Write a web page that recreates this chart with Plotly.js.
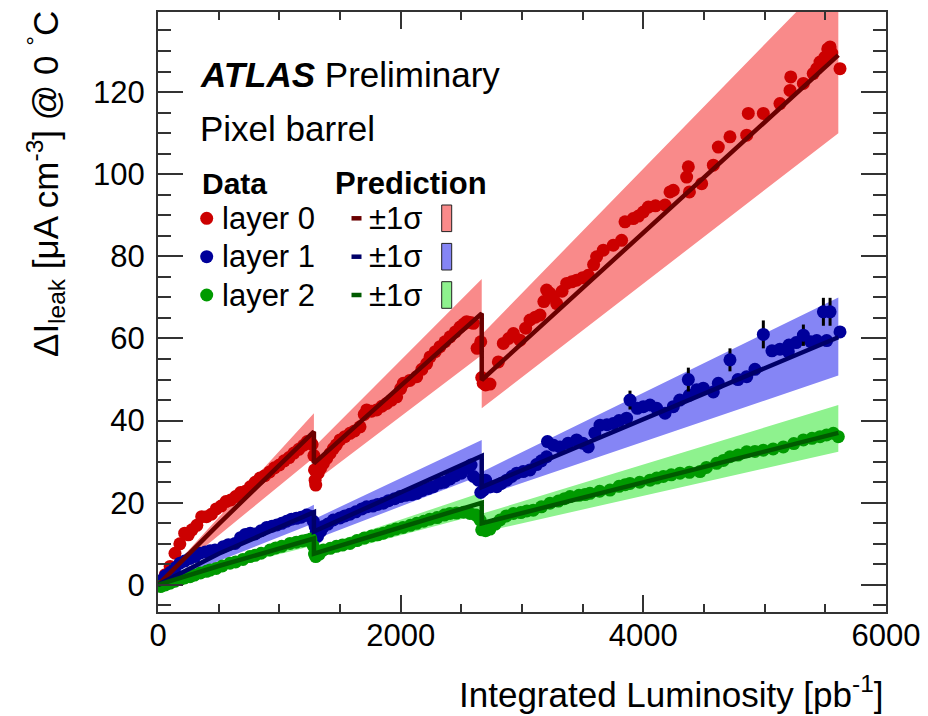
<!DOCTYPE html>
<html>
<head>
<meta charset="utf-8">
<script src="https://cdn.plot.ly/plotly-3.0.1.min.js"></script>
<style>html,body{margin:0;padding:0;background:#fff;}#chart{width:928px;height:716px;}</style>
</head>
<body>
<div id="chart"></div>
<script>
// ---------------- data ----------------
// Layer 0 measurements
const l0X = [20,60,100,140,180,220,250,280,320,360,400,440,480,520,560,600,640,680,720,760,800,840,880,920,960,1000,1040,1080,1120,1160,1200,1230,1260,1270,1285,1290,1295,1300,
  1320,1340,1363,1390,1418,1445,1470,1500,1540,1582,1620,1665,1700,1720,1760,1802,1845,1885,1925,1967,2000,2022,2075,2132,2175,2214,2242,2285,2324,2365,2407,2450,2489,2520,2544,2575,2599,2630,2660,2668,2680,2700,2736,
  2805,2846,2890,2929,2984,3030,3066,3110,3148,3180,3203,3230,3258,3286,3330,3368,3410,3450,3500,3546,3590,3615,3670,3752,3821,3849,3917,3960,4000,4041,4100,4179,4220,4247,4357,4371,4380,4481,4577,4618,4714,4852,4865,4989,5126,5209,5215,5319,5400,5429,5456,5497,5520,5539,5553,5621];
const l0Y = [0.8,2.5,4.5,7.7,10.0,12.6,12.2,13.4,14.5,16.6,16.6,17.2,18.5,19.2,20.3,20.7,21.5,22.5,22.8,23.9,25.0,26.0,26.6,27.5,28.5,29.2,30.2,31.0,32.1,33.0,34.0,34.9,34.5,34.2,31.5,28.0,25.5,24.3,
  27.2,28.4,29.6,30.8,32.0,33.2,34.1,35.3,36.1,36.9,37.5,38.5,41.5,42.6,42.3,42.6,43.5,44.2,45.0,45.8,47.8,49.1,49.8,50.7,52.5,53.9,55.5,56.8,58.0,59.2,60.4,61.6,62.8,63.5,64.1,63.9,63.7,57.6,59.2,50.5,49.1,48.7,48.9,
  54.3,58.8,60.0,61.2,59.6,62.5,64.5,65.2,65.7,69.0,71.8,71.0,70.1,68.5,71.5,73.4,73.8,74.2,74.8,75.4,78.0,79.9,81.5,82.7,83.9,88.4,89.2,89.8,90.8,92.0,92.3,92.5,95.7,96.1,99.3,101.8,95.7,97.7,102.2,106.6,109.1,109.5,114.8,114.8,117.2,120.4,123.7,122.1,124.5,125.7,127.3,128.5,130.5,131.0,129.5,125.7];

// Layer 1 measurements
const l1X = [20,60,100,140,181,220,260,305,346,390,430,470,538,580,635,680,720,760,800,850,896,940,980,1020,1060,1100,1140,1180,1225,1250,1280,1295,1305,1315,
  1340,1363,1400,1445,1500,1540,1582,1630,1680,1720,1770,1810,1857,1900,1950,1995,2040,2090,2132,2180,2230,2269,2320,2360,2407,2450,2500,2544,2580,2600,2640,2660,
  2682,2700,2740,2792,2830,2874,2915,2956,3010,3066,3120,3160,3203,3210,3260,3313,3380,3450,3500,3546,3600,3643,3700,3752,3800,3862,3950,4000,4055,4110,4179,4247,4300,4380,4440,4494,4577,4618,4780,4852,4920,5060,5126,5195,5200,5260,5380,5429,5511,5621];
const l1Y = [1.0,2.2,3.0,4.1,5.3,5.8,6.4,6.9,7.7,8.0,8.3,8.5,9.3,9.8,10.1,11.5,12.3,12.6,12.4,13.2,14.0,14.3,14.6,15.0,15.5,16.0,16.2,16.5,17.0,16.8,15.5,14.2,13.0,11.8,
  13.0,14.2,14.8,15.8,16.3,16.8,17.2,17.8,18.5,19.0,19.2,19.6,19.9,20.5,21.0,21.5,21.8,22.0,22.3,23.0,23.5,23.9,24.8,25.0,25.8,26.6,27.2,28.4,29.2,26.4,25.5,22.5,
  23.1,25.5,23.9,23.9,24.7,25.5,26.4,27.2,27.6,28.0,29.3,30.2,31.2,34.9,34.0,33.6,34.5,35.3,34.5,33.6,37.0,38.9,39.0,39.3,40.0,40.6,43.0,43.4,43.8,43.0,41.8,43.4,45.0,46.2,47.5,47.9,47.0,49.1,50.0,50.7,52.5,57.0,57.4,56.8,58.4,59.0,59.2,59.5,59.5,61.6];
// Layer 1 measurements drawn with visible error bars
const l1ErrX = [3890,4371,4714,4989,5319,5484,5539];
const l1ErrY = [45.0,50.0,54.8,61.0,60.8,66.5,66.5];
const l1ErrV = [2.3,2.9,2.8,3.4,2.6,3.4,3.4];

// Layer 2 measurements
const l2X = [20,60,99,140,180,220,264,300,350,400,429,480,530,593,640,700,758,800,850,923,970,1020,1088,1140,1190,1225,1260,1280,1290,1300,
  1330,1363,1420,1470,1520,1582,1640,1700,1760,1810,1857,1910,1960,2020,2080,2132,2190,2240,2300,2360,2407,2460,2520,2571,2620,2654,
  2668,2700,2736,2780,2819,2870,2929,2990,3040,3093,3160,3231,3300,3350,3396,3470,3520,3560,3640,3725,3800,3850,3890,3970,4055,4110,4165,4230,4302,4380,4467,4520,4604,4660,4714,4780,4852,4920,4989,5070,5154,5240,5319,5390,5456,5510,5566,5607];
const l2Y = [-0.4,0.0,0.4,0.9,1.3,1.7,2.0,2.4,2.9,3.3,3.6,4.0,4.6,5.3,5.6,6.2,6.9,7.2,7.7,8.5,9.0,9.4,10.1,10.4,10.7,10.9,11.2,9.5,7.5,6.9,
  7.5,8.5,8.9,9.4,9.7,10.1,10.8,11.4,11.9,12.2,12.6,13.1,13.6,14.0,14.5,15.0,15.5,16.0,16.4,17.0,17.4,17.5,17.7,17.4,17.0,15.8,
  13.4,13.2,13.6,14.8,15.8,16.8,17.4,17.6,18.0,18.2,19.0,19.9,20.4,21.0,21.5,21.8,22.0,22.3,22.8,23.1,24.0,24.4,24.7,25.0,25.5,26.0,26.4,26.8,27.2,27.4,27.6,28.6,29.6,30.3,31.2,31.6,32.4,32.5,32.8,33.1,33.6,34.4,35.3,35.7,36.1,36.5,36.9,36.1];

// Predictions (sawtooth: drops at the annealing periods)
const predX  = [0, 500, 1285, 1285, 2668, 2668, 5607];
const l0Pred = [0, 14.8, 37.3, 29.6, 66.1, 49.9, 129.0];
const l1Pred = [0, 7.6, 17.7, 13.0, 31.4, 23.8, 60.3];
const l2Pred = [0, 4.6, 11.3, 7.6, 20.0, 15.0, 37.0];

// +-1 sigma bands: (start, end) pairs for each period
const bandX  = [0, 1285, 1285, 2668, 2668, 5607];
const l0Lo = [0, 31.0, 25.0, 56.0, 43.0, 110.0];
const l0Hi = [0.3, 41.8, 33.5, 74.5, 61.0, 150.0];
const l1Lo = [0, 15.0, 11.0, 26.7, 21.5, 51.0];
const l1Hi = [0.3, 19.5, 16.0, 35.3, 27.5, 70.0];
const l2Lo = [0, 9.6, 6.5, 17.3, 12.8, 32.4];
const l2Hi = [0.3, 12.8, 8.8, 22.5, 17.3, 43.8];

const layerNames = ['layer 0', 'layer 1', 'layer 2'];
const xTicks = [0, 2000, 4000, 6000];

// ---------------- styles ----------------
const dataCol = ['#cc0000', '#00009a', '#009a00'];
const predCol = ['#6a0000', '#000068', '#005a00'];
const bandCol = ['#f98a8a', '#8585f5', '#8ef28e'];

function bandPoly(xs, lo, hi) {
  const X = [], Y = [];
  for (let i = 0; i < xs.length; i += 2) {
    X.push(xs[i], xs[i+1], xs[i+1], xs[i], xs[i], null);
    Y.push(lo[i], lo[i+1], hi[i+1], hi[i], lo[i], null);
  }
  return {x: X, y: Y};
}

const traces = [];
[[l0Lo,l0Hi],[l1Lo,l1Hi],[l2Lo,l2Hi]].forEach((b, k) => {
  const p = bandPoly(bandX, b[0], b[1]);
  traces.push({x: p.x, y: p.y, type: 'scatter', mode: 'lines', fill: 'toself',
    fillcolor: bandCol[k], line: {width: 0, color: bandCol[k]}, hoverinfo: 'skip', connectgaps: false});
});
[[l0X,l0Y],[l1X,l1Y],[l2X,l2Y]].forEach((d, k) => {
  traces.push({x: d[0], y: d[1], type: 'scatter', mode: 'markers',
    marker: {color: dataCol[k], size: 13, line: {width: 0}}, cliponaxis: true});
});
traces.push({x: l1ErrX, y: l1ErrY, type: 'scatter', mode: 'markers',
  marker: {color: dataCol[1], size: 13, line: {width: 0}},
  error_y: {type: 'data', array: l1ErrV, visible: true, color: '#000', thickness: 3, width: 0}});
[l0Pred, l1Pred, l2Pred].forEach((p, k) => {
  traces.push({x: predX, y: p, type: 'scatter', mode: 'lines',
    line: {color: predCol[k], width: 4.5}});
});

// ---------------- layout ----------------
const FONT = 'Liberation Sans, Arial, Helvetica, sans-serif';
const W = 728, H = 600;           // plot-area size in px
const px = v => v / W, py = v => v / H;

const annotations = [
  {text: '<b><i>ATLAS</i></b> Preliminary', x: px(40), y: py(612-75), xanchor: 'left', yanchor: 'middle', font: {size: 35}},
  {text: 'Pixel barrel', x: px(40), y: py(612-128), xanchor: 'left', yanchor: 'middle', font: {size: 35}},
  {text: '<b>Data</b>', x: px(42), y: py(612-184), xanchor: 'left', yanchor: 'middle', font: {size: 30}},
  {text: '<b>Prediction</b>', x: px(175), y: py(612-184), xanchor: 'left', yanchor: 'middle', font: {size: 31}},
  {text: 'Integrated Luminosity [pb<sup>-1</sup>]', x: 1, y: py(612-692), xanchor: 'right', yanchor: 'middle', font: {size: 35}},
  {text: 'ΔI<sub>leak</sub> [μA cm<sup>-3</sup>] @ 0 <sup>°</sup>C', x: px(45-158), y: 1.005, xanchor: 'center', yanchor: 'top', textangle: -90, font: {size: 35}}
];
const shapes = [];
const rowY = [218.3, 256.7, 295];
rowY.forEach((ry, k) => {
  const yc = py(612 - ry);
  annotations.push({text: layerNames[k], x: px(220-158), y: yc, xanchor: 'left', yanchor: 'middle', font: {size: 31}});
  annotations.push({text: '±1σ', x: px(367-158), y: yc, xanchor: 'left', yanchor: 'middle', font: {size: 31}});
  shapes.push({type: 'circle', xref: 'paper', yref: 'paper', x0: px(206.7-158-6.5), x1: px(206.7-158+6.5),
    y0: yc - py(6.5), y1: yc + py(6.5), fillcolor: dataCol[k], line: {width: 0}});
  shapes.push({type: 'line', xref: 'paper', yref: 'paper', x0: px(351.5-158), x1: px(361.5-158), y0: yc, y1: yc,
    line: {color: predCol[k], width: 4.5}});
  shapes.push({type: 'rect', xref: 'paper', yref: 'paper', x0: px(441.7-158), x1: px(451.7-158),
    y0: yc - py(13.3), y1: yc + py(13.3), fillcolor: bandCol[k], line: {color: '#222', width: 1}});
});
annotations.forEach(a => { a.xref = 'paper'; a.yref = 'paper'; a.showarrow = false; });

const axCommon = {showgrid: false, zeroline: false, showline: true, linecolor: '#333', linewidth: 2,
  mirror: 'ticks', ticks: 'inside', tickcolor: '#333', tickwidth: 2, tickfont: {size: 31, color: '#000'}};

const layout = {
  width: 928, height: 716,
  margin: {l: 158, r: 42, t: 12, b: 104, pad: 0},
  paper_bgcolor: '#fff', plot_bgcolor: '#fff',
  showlegend: false,
  font: {family: FONT, color: '#000'},
  xaxis: Object.assign({}, axCommon, {range: [0, 6000], tickvals: xTicks, ticklen: 17,
    ticklabelstandoff: -5,
    minor: {dtick: 500, tick0: 0, ticks: 'inside', ticklen: 8, tickwidth: 2, tickcolor: '#333'}}),
  yaxis: Object.assign({}, axCommon, {range: [-6.6, 139.5], tick0: 0, dtick: 20, ticklen: 25,
    ticklabelstandoff: 5,
    minor: {dtick: 5, tick0: 0, ticks: 'inside', ticklen: 13, tickwidth: 2, tickcolor: '#333'}}),
  annotations: annotations,
  shapes: shapes
};

Plotly.newPlot('chart', traces, layout, {staticPlot: true, displayModeBar: false});
</script>
</body>
</html>
